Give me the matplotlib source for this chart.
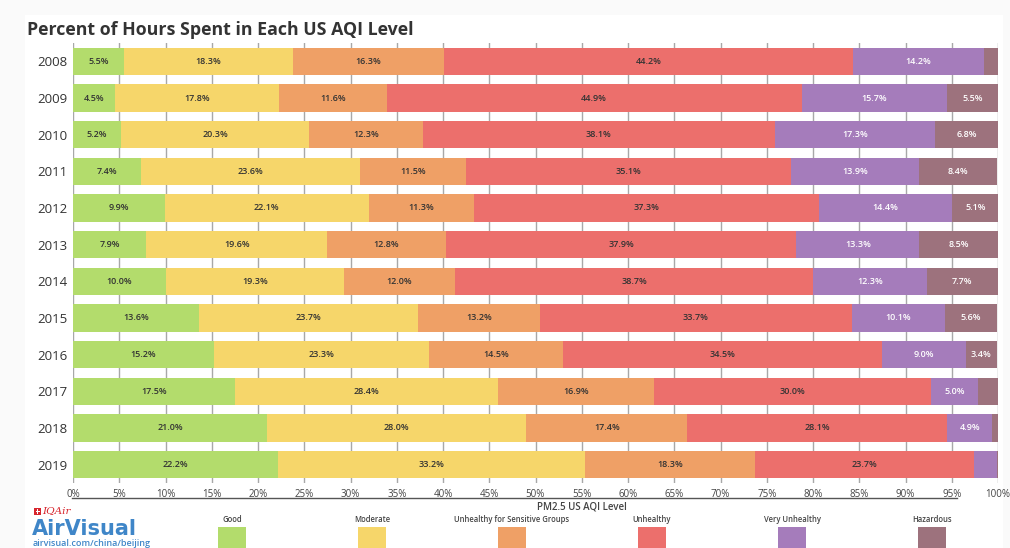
import matplotlib.pyplot as plt
from matplotlib.patches import Rectangle
import numpy as np

plt.rcParams['font.family'] = ['Open Sans', 'DejaVu Sans']

years = ['2008', '2009', '2010', '2011', '2012', '2013',
         '2014', '2015', '2016', '2017', '2018', '2019']
levels = ['Good', 'Moderate', 'Unhealthy for Sensitive Groups',
          'Unhealthy', 'Very Unhealthy', 'Hazardous']
colors = ['#b3dc6c', '#f6d66a', '#efa066', '#ec6f6c', '#a57cbb', '#9d727d']
text_colors = ['#333333', '#333333', '#333333', '#333333', 'white', 'white']

good = [5.5, 4.5, 5.2, 7.4, 9.9, 7.9, 10.0, 13.6, 15.2, 17.5, 21.0, 22.2]
moderate = [18.3, 17.8, 20.3, 23.6, 22.1, 19.6, 19.3, 23.7, 23.3, 28.4, 28.0, 33.2]
usg = [16.3, 11.6, 12.3, 11.5, 11.3, 12.8, 12.0, 13.2, 14.5, 16.9, 17.4, 18.3]
unhealthy = [44.2, 44.9, 38.1, 35.1, 37.3, 37.9, 38.7, 33.7, 34.5, 30.0, 28.1, 23.7]
very_unhealthy = [14.2, 15.7, 17.3, 13.9, 14.4, 13.3, 12.3, 10.1, 9.0, 5.0, 4.9, 2.5]
hazardous = [1.5, 5.5, 6.8, 8.4, 5.1, 8.5, 7.7, 5.6, 3.4, 2.2, 0.6, 0.1]

series = [good, moderate, usg, unhealthy, very_unhealthy, hazardous]

W, H = 1010, 548
fig = plt.figure(figsize=(W / 100, H / 100), dpi=100, facecolor='#fafafa')
fig.add_artist(Rectangle((25 / W, 0), 978 / W, 1 - 15 / H, transform=fig.transFigure,
                         facecolor='white', edgecolor='none', zorder=-10))

ax = fig.add_axes([73 / W, 1 - 483 / H, 925 / W, 440 / H])
ax.set_facecolor('none')

y = np.arange(len(years))
left = np.zeros(len(years))
for vals, col, tcol in zip(series, colors, text_colors):
    vals = np.array(vals)
    ax.barh(y, vals, left=left, height=0.74, color=col, zorder=2)
    for yi, (l, v) in enumerate(zip(left, vals)):
        if v >= 3.0:
            ax.text(l + v / 2, yi, f'{v:.1f}%', ha='center', va='center',
                    fontsize=6.5, color=tcol, fontweight='semibold', zorder=3)
    left += vals

ax.set_xlim(0, 100)
ax.set_ylim(len(years) - 0.5, -0.5)
ax.set_yticks(y)
ax.set_yticklabels(years, fontsize=9.5, color='#333333')
ax.set_xticks(np.arange(0, 101, 5))
ax.set_xticklabels([f'{t}%' for t in range(0, 101, 5)], fontsize=7, color='#444444')
ax.tick_params(axis='both', length=0, pad=4)
ax.tick_params(axis='x', pad=4)
ax.xaxis.grid(True, color='#a8a8a8', lw=1, zorder=0)
ax.set_axisbelow(True)
for s in ax.spines.values():
    s.set_visible(False)

# title
fig.text(27 / W, 1 - 30 / H, 'Percent of Hours Spent in Each US AQI Level',
         fontsize=12.8, fontweight='bold', color='#333333', va='center')

# axis title and rule
fig.add_artist(plt.Line2D([72 / W, 957 / W], [1 - 498 / H, 1 - 498 / H],
                          color='#555555', lw=1, transform=fig.transFigure))
fig.text(582 / W, 1 - 507 / H, 'PM2.5 US AQI Level', fontsize=7,
         color='#444444', ha='center', va='center', fontweight='semibold')

# colour legend
for i, (name, col) in enumerate(zip(levels, colors)):
    x0 = 218 + 140 * i
    fig.add_artist(Rectangle((x0 / W, 0), 28 / W, 21 / H, transform=fig.transFigure,
                             facecolor=col, edgecolor='none'))
    fig.text((x0 + 14) / W, 1 - 519 / H, name, fontsize=5.5, color='#444444',
             ha='center', va='center', fontweight='semibold')

# logo
fig.add_artist(Rectangle((34 / W, 1 - 515 / H), 7 / W, 7 / H, transform=fig.transFigure,
                         facecolor='#d7262e', edgecolor='none'))
fig.add_artist(Rectangle((35.5 / W, 1 - 512 / H), 4 / W, 1.2 / H, transform=fig.transFigure,
                         facecolor='white', edgecolor='none'))
fig.add_artist(Rectangle((37 / W, 1 - 513.7 / H), 1.2 / W, 4.5 / H, transform=fig.transFigure,
                         facecolor='white', edgecolor='none'))
fig.text(42 / W, 1 - 511 / H, 'IQAir', fontsize=7.5, color='#d7262e',
         fontstyle='italic', family='DejaVu Serif', va='center')
fig.text(32 / W, 1 - 529 / H, 'AirVisual', fontsize=15, color='#3f86c8',
         fontweight='bold', family='DejaVu Sans', va='center')
fig.text(33 / W, 1 - 543 / H, 'airvisual.com/china/beijing', fontsize=6.5,
         color='#3f86c8', va='center', fontweight='semibold')

fig.savefig('out.png', dpi=100, facecolor=fig.get_facecolor())
